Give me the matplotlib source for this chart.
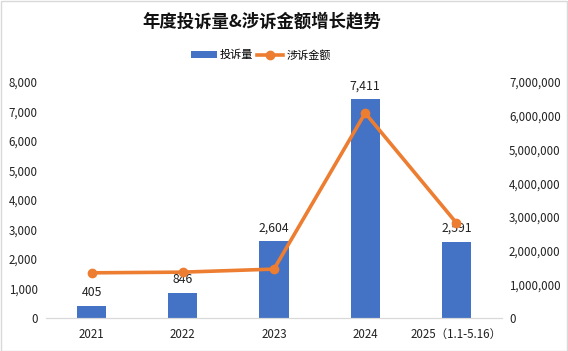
import numpy as np
import matplotlib.pyplot as plt

plt.rcParams['font.family'] = ['Noto Sans CJK SC', 'DejaVu Sans']

years = ['2021', '2022', '2023', '2024', '2025（1.1-5.16）']
complaints = [405, 846, 2604, 7411, 2591]
amounts = [1340000, 1360000, 1450000, 6080000, 2820000]

fig = plt.figure(figsize=(5.68, 3.51), dpi=100)
ax = fig.add_axes([46 / 568, 1 - 318 / 351, 456 / 568, 236 / 351])
ax2 = ax.twinx()

x = np.arange(len(years))
ax.bar(x, complaints, width=0.32, color='#4472C4', label='投诉量', zorder=2)
ax2.plot(x, amounts, color='#ED7D31', lw=2.6, marker='o', ms=6, label='涉诉金额', zorder=3)

for xi, v in zip(x, complaints):
    ax.text(xi, v + 230, f'{v:,}', ha='center', va='bottom', fontsize=8.8, color='#222222')

ax.set_xlim(-0.5, len(years) - 0.5)
ax.set_ylim(0, 8000)
ax.set_yticks(range(0, 8001, 1000))
ax.set_yticklabels([f'{v:,}' for v in range(0, 8001, 1000)])
ax2.set_ylim(0, 7000000)
ax2.set_yticks(range(0, 7000001, 1000000))
ax2.set_yticklabels([f'{v:,}' for v in range(0, 7000001, 1000000)])
ax.set_xticks(x)
ax.set_xticklabels(years)

for a in (ax, ax2):
    for s in ('top', 'left', 'right'):
        a.spines[s].set_visible(False)
    a.spines['bottom'].set_color('#D9D9D9')
    a.tick_params(length=0, labelsize=8.3, colors='#222222')
ax.tick_params(axis='y', pad=6)
ax.tick_params(axis='x', pad=7)
ax2.tick_params(axis='y', pad=5)
ax2.set_zorder(ax.get_zorder() + 1)
ax2.patch.set_visible(False)

fig.text(262 / 568, 1 - 21 / 351, '年度投诉量&涉诉金额增长趋势', ha='center', va='center',
         fontsize=12.5, fontweight='bold', color='#111111')
h1, l1 = ax.get_legend_handles_labels()
h2, l2 = ax2.get_legend_handles_labels()
fig.legend(h1 + h2, l1 + l2, loc='center', bbox_to_anchor=(261 / 568, 1 - 55 / 351), ncol=2,
           frameon=False, fontsize=8, handlelength=2.3, handleheight=0.55,
           columnspacing=0.35, handletextpad=0.3)

fig.patches.append(plt.Rectangle((0.001, 0.001), 0.998, 0.997, transform=fig.transFigure,
                                 fill=False, edgecolor='#D9D9D9', lw=1))

fig.savefig('out.png', dpi=100)
